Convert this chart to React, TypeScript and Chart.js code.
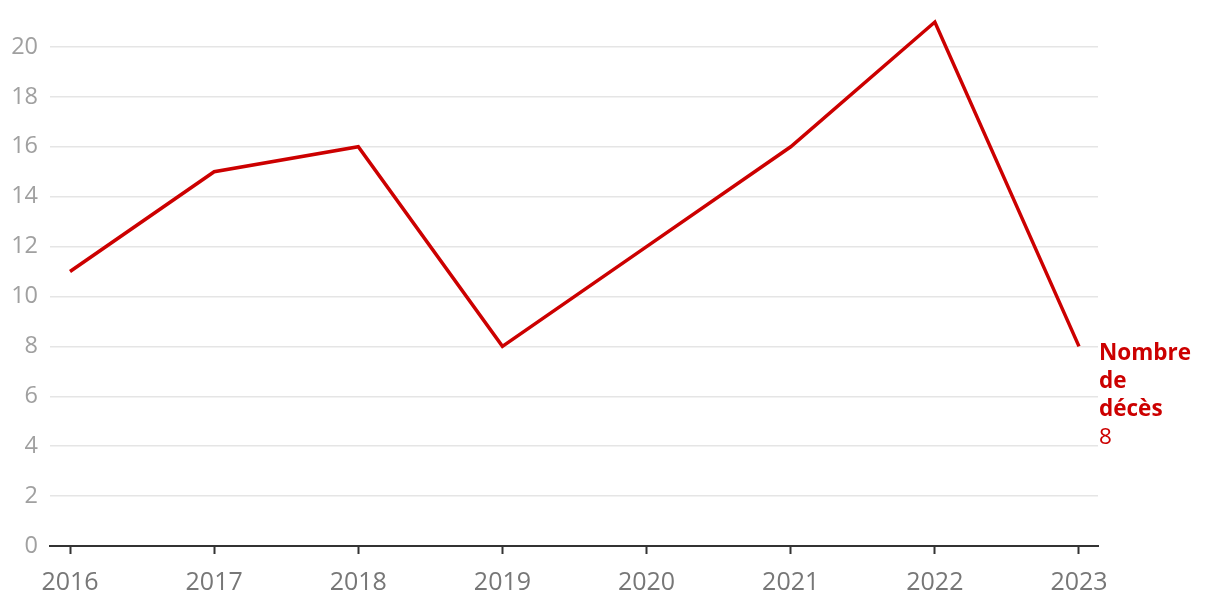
import React, { useEffect, useRef } from "react";
import { Chart, registerables } from "chart.js";

Chart.register(...registerables);

const years = [2016, 2017, 2018, 2019, 2020, 2021, 2022, 2023];
const deaths = [11, 15, 16, 8, 12, 16, 21, 8];
const yTicks = [0, 2, 4, 6, 8, 10, 12, 14, 16, 18, 20];
const seriesLabel = ["Nombre", "de", "décès"];

const RED = "#cc0000";

const endLabelPlugin = {
  id: "endLabel",
  afterDatasetsDraw(chart: any) {
    const ctx = chart.ctx;
    const xs = chart.scales.x;
    const ys = chart.scales.y;
    const last = deaths.length - 1;
    const x = xs.getPixelForValue(years[last]) + 20;
    const y0 = ys.getPixelForValue(deaths[last]) + 7;
    ctx.save();
    ctx.fillStyle = RED;
    ctx.textAlign = "left";
    ctx.textBaseline = "middle";
    ctx.font = "bold 22.5px 'Open Sans'";
    seriesLabel.forEach((t, i) => ctx.fillText(t, x, y0 + i * 28));
    ctx.font = "22.5px 'Open Sans'";
    ctx.fillText(String(deaths[last]), x, y0 + seriesLabel.length * 28);
    ctx.restore();
  },
};

export default function App() {
  const ref = useRef<HTMLCanvasElement>(null);
  useEffect(() => {
    if (!ref.current) return;
    const chart = new Chart(ref.current, {
      type: "line",
      data: {
        datasets: [
          {
            data: years.map((y, i) => ({ x: y, y: deaths[i] })),
            borderColor: RED,
            borderWidth: 3.5,
            pointRadius: 0,
            tension: 0,
            clip: false as any,
          },
        ],
      },
      options: {
        animation: false,
        responsive: false,
        layout: { padding: { left: 0, right: 122, top: 22, bottom: 0 } },
        plugins: { legend: { display: false }, tooltip: { enabled: false } },
        scales: {
          x: {
            type: "linear",
            min: 2016 - 20 / 144.1,
            max: 2023 + 19 / 144.1,
            afterBuildTicks: (s: any) => {
              s.ticks = years.map((v) => ({ value: v }));
            },
            afterFit: (s: any) => {
              s.height = 60;
              s.paddingLeft = 0;
              s.paddingRight = 0;
            },
            grid: {
              display: true,
              drawOnChartArea: false,
              drawTicks: true,
              tickLength: 8,
              tickColor: "#333",
              tickWidth: 2,
            },
            border: { display: true, color: "#333", width: 2 },
            ticks: {
              color: "#777",
              font: { family: "'Open Sans'", size: 25 },
              padding: 14,
              maxRotation: 0,
              autoSkip: false,
              callback: (v: any) => String(v),
            },
          },
          y: {
            min: 0,
            max: 21,
            afterBuildTicks: (s: any) => {
              s.ticks = yTicks.map((v) => ({ value: v }));
            },
            afterFit: (s: any) => {
              s.width = 50;
              s.paddingTop = 0;
              s.paddingBottom = 0;
            },
            grid: { color: "#e5e5e5", lineWidth: 1.5, drawTicks: false },
            border: { display: false },
            ticks: {
              color: "#a0a0a0",
              font: { family: "'Open Sans'", size: 23.5 },
              padding: 12,
              callback: (v: any) => String(v),
            },
          },
        },
      },
      plugins: [endLabelPlugin],
    });
    return () => chart.destroy();
  }, []);
  return (
    <div style={{ position: "fixed", left: 0, top: 0, width: 1220, height: 606, background: "#fff" }}>
      <canvas ref={ref} width={1220} height={606} style={{ display: "block" }} />
    </div>
  );
}
